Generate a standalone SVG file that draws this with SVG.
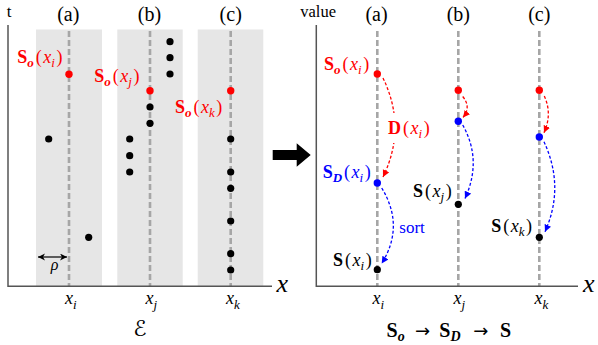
<svg xmlns="http://www.w3.org/2000/svg" width="598" height="345" viewBox="0 0 598 345">
<style>
.band{fill:#e6e6e6}
.guide{stroke:#a6a6a6;stroke-width:2.6;stroke-dasharray:6,3;fill:none}
.axis{stroke:#555;stroke-width:1.5;fill:none}
.dot{fill:#000}
.rdot{fill:#ff0000}
.bdot{fill:#0000ff}
.t{font-family:"Liberation Serif",serif;fill:#000}
.m{font-family:"Liberation Serif",serif;font-size:18px}
.b{font-weight:bold}
.i{font-style:italic}
.bi{font-weight:bold;font-style:italic}
.s{font-size:13px}
.red{fill:#ff0000}
.blue{fill:#0000ff}
.blk{fill:#000}
.arw{font-family:"DejaVu Sans",sans-serif;font-size:18px;fill:#000}
.rc{stroke:#ff0000;stroke-width:1.3;stroke-dasharray:3,2;fill:none}
.bc{stroke:#0000ff;stroke-width:1.3;stroke-dasharray:3,2;fill:none}
</style>
<defs>
<marker id="ar" markerUnits="userSpaceOnUse" markerWidth="8" markerHeight="8" refX="7" refY="3.5" orient="auto"><path d="M0,0 L7,3.5 L0,7 z" fill="#ff0000"/></marker>
<marker id="ab" markerUnits="userSpaceOnUse" markerWidth="8" markerHeight="8" refX="7" refY="3.5" orient="auto"><path d="M0,0 L7,3.5 L0,7 z" fill="#0000ff"/></marker>
<marker id="ak" markerUnits="userSpaceOnUse" markerWidth="8" markerHeight="8" refX="7" refY="3.5" orient="auto-start-reverse"><path d="M0,0 L7,3.5 L0,7 L2,3.5 z" fill="#000"/></marker>
</defs>

<g id="left-panel">
<rect class="band" x="36" y="29.5" width="66" height="256.5"/>
<rect class="band" x="117.3" y="29.5" width="65.4" height="256.5"/>
<rect class="band" x="197.7" y="29.5" width="65.6" height="256.5"/>
<line class="guide" x1="69" y1="31" x2="69" y2="286"/>
<line class="guide" x1="150" y1="31" x2="150" y2="286"/>
<line class="guide" x1="230.7" y1="31" x2="230.7" y2="286"/>
<path class="axis" d="M8,25 V286.3 H272"/>
<text class="t" x="9" y="17" font-size="17" text-anchor="middle">t</text>
<text class="t" x="68.3" y="21" font-size="20" text-anchor="middle">(a)</text>
<text class="t" x="149.5" y="21" font-size="20" text-anchor="middle">(b)</text>
<text class="t" x="230.7" y="21" font-size="20" text-anchor="middle">(c)</text>
<text class="t i" x="276.5" y="292" font-size="26">x</text>
<line x1="38" y1="257" x2="67" y2="257" stroke="#000" stroke-width="1.2" marker-start="url(#ak)" marker-end="url(#ak)"/>
<text class="t i" x="54.5" y="270" font-size="16" text-anchor="middle">ρ</text>
<text class="m blk" x="65" y="303.5"><tspan class="i">x</tspan><tspan class="s i" dy="5">i</tspan></text>
<text class="m blk" x="145.5" y="303.5"><tspan class="i">x</tspan><tspan class="s i" dy="5">j</tspan></text>
<text class="m blk" x="226" y="303.5"><tspan class="i">x</tspan><tspan class="s i" dy="5">k</tspan></text>
<text x="140" y="336" font-family="'DejaVu Serif','DejaVu Sans',serif" font-size="22" text-anchor="middle" fill="#000">ℰ</text>
</g>

<g id="left-points">
<circle class="rdot" cx="69" cy="74.3" r="3.7"/>
<circle class="dot" cx="48.7" cy="139" r="3.6"/>
<circle class="dot" cx="88.7" cy="237.3" r="3.6"/>
<circle class="dot" cx="170" cy="41.7" r="3.6"/>
<circle class="dot" cx="170" cy="57.7" r="3.6"/>
<circle class="dot" cx="170" cy="74" r="3.6"/>
<circle class="rdot" cx="150" cy="90.7" r="3.7"/>
<circle class="dot" cx="150" cy="107" r="3.6"/>
<circle class="dot" cx="150" cy="123.3" r="3.6"/>
<circle class="dot" cx="129.7" cy="139" r="3.6"/>
<circle class="dot" cx="129.7" cy="155.7" r="3.6"/>
<circle class="dot" cx="129.7" cy="172" r="3.6"/>
<circle class="rdot" cx="230.7" cy="90.7" r="3.7"/>
<circle class="dot" cx="230.7" cy="139" r="3.6"/>
<circle class="dot" cx="230.7" cy="172" r="3.6"/>
<circle class="dot" cx="230.7" cy="188.3" r="3.6"/>
<circle class="dot" cx="230.7" cy="221" r="3.6"/>
<circle class="dot" cx="230.7" cy="253.7" r="3.6"/>
<circle class="dot" cx="230.7" cy="270" r="3.6"/>
<text class="m red" x="17.3" y="63"><tspan class="b">S</tspan><tspan class="s bi" dy="4">o</tspan><tspan dy="-4" dx="2">(</tspan><tspan class="i" dx="1.5">x</tspan><tspan class="s i" dy="4">i</tspan><tspan dy="-4" dx="1.5">)</tspan></text>
<text class="m red" x="94.3" y="82"><tspan class="b">S</tspan><tspan class="s bi" dy="4">o</tspan><tspan dy="-4" dx="2">(</tspan><tspan class="i" dx="1.5">x</tspan><tspan class="s i" dy="4">j</tspan><tspan dy="-4" dx="1.5">)</tspan></text>
<text class="m red" x="175" y="113"><tspan class="b">S</tspan><tspan class="s bi" dy="4">o</tspan><tspan dy="-4" dx="2">(</tspan><tspan class="i" dx="1.5">x</tspan><tspan class="s i" dy="4">k</tspan><tspan dy="-4" dx="1.5">)</tspan></text>
</g>

<g id="transform-arrow">
<polygon points="272.7,150 296.7,150 296.7,143.3 310.7,155 296.7,166.7 296.7,160 272.7,160" fill="#000"/>
</g>

<g id="right-panel">
<line class="guide" x1="377.3" y1="31" x2="377.3" y2="286"/>
<line class="guide" x1="458.3" y1="31" x2="458.3" y2="286"/>
<line class="guide" x1="539.3" y1="31" x2="539.3" y2="286"/>
<path class="axis" d="M316.3,25 V286.3 H578"/>
<text class="t" x="336" y="17" font-size="16.5" text-anchor="end">value</text>
<text class="t" x="376.5" y="21" font-size="20" text-anchor="middle">(a)</text>
<text class="t" x="458.3" y="21" font-size="20" text-anchor="middle">(b)</text>
<text class="t" x="539.3" y="21" font-size="20" text-anchor="middle">(c)</text>
<text class="t i" x="583" y="292" font-size="26">x</text>
<text class="m blk" x="372.5" y="303.5"><tspan class="i">x</tspan><tspan class="s i" dy="5">i</tspan></text>
<text class="m blk" x="453.5" y="303.5"><tspan class="i">x</tspan><tspan class="s i" dy="5">j</tspan></text>
<text class="m blk" x="534.5" y="303.5"><tspan class="i">x</tspan><tspan class="s i" dy="5">k</tspan></text>
<text class="t b" x="386.5" y="337" font-size="20">S<tspan class="bi" font-size="14" dy="4">o</tspan></text>
<text class="arw" x="415" y="337">→</text>
<text class="t b" x="439.3" y="337" font-size="20">S<tspan class="bi" font-size="14" dy="4">D</tspan></text>
<text class="arw" x="473.3" y="337">→</text>
<text class="t b" x="500" y="337" font-size="20">S</text>
</g>

<g id="connectors">
<path class="rc" d="M383,78 Q407,127.5 383,177" marker-end="url(#ar)"/>
<path class="bc" d="M381.7,188 Q405,226 381.7,263.5" marker-end="url(#ab)"/>
<path class="rc" d="M462.7,96.5 Q471.5,107 463,117.5" marker-end="url(#ar)"/>
<path class="bc" d="M462.7,125 Q482.5,160 465,198.5" marker-end="url(#ab)"/>
<path class="rc" d="M544.3,96 Q552.5,114 544,132.7" marker-end="url(#ar)"/>
<path class="bc" d="M544,141.7 Q565,187 545,231.7" marker-end="url(#ab)"/>
</g>

<g id="node-a">
<circle class="rdot" cx="377.3" cy="74" r="3.7"/>
<circle class="bdot" cx="377.3" cy="183" r="3.7"/>
<circle class="dot" cx="377.3" cy="269.7" r="3.6"/>
<text class="m red" x="324" y="69.5"><tspan class="b">S</tspan><tspan class="s bi" dy="4">o</tspan><tspan dy="-4" dx="2">(</tspan><tspan class="i" dx="1.5">x</tspan><tspan class="s i" dy="4">i</tspan><tspan dy="-4" dx="1.5">)</tspan></text>
<rect x="386" y="113" width="46" height="30" fill="#fff"/>
<text class="m red" x="388" y="133.5"><tspan class="b">D</tspan><tspan dx="2">(</tspan><tspan class="i" dx="1.5">x</tspan><tspan class="s i" dy="4">i</tspan><tspan dy="-4" dx="1.5">)</tspan></text>
<text class="m blue" x="322.7" y="178"><tspan class="b">S</tspan><tspan class="s bi" dy="4">D</tspan><tspan dy="-4" dx="2">(</tspan><tspan class="i" dx="1.5">x</tspan><tspan class="s i" dy="4">i</tspan><tspan dy="-4" dx="1.5">)</tspan></text>
<text class="t blue" x="399.3" y="233" font-size="17">sort</text>
<text class="m blk" x="333" y="265.5"><tspan class="b">S</tspan><tspan dx="2">(</tspan><tspan class="i" dx="1.5">x</tspan><tspan class="s i" dy="4">i</tspan><tspan dy="-4" dx="1.5">)</tspan></text>
</g>

<g id="node-b">
<circle class="rdot" cx="458.3" cy="90.3" r="3.7"/>
<circle class="bdot" cx="458.3" cy="121.3" r="3.7"/>
<circle class="dot" cx="458.3" cy="204.3" r="3.6"/>
<text class="m blk" x="413" y="197"><tspan class="b">S</tspan><tspan dx="2">(</tspan><tspan class="i" dx="1.5">x</tspan><tspan class="s i" dy="4">j</tspan><tspan dy="-4" dx="1.5">)</tspan></text>
</g>

<g id="node-c">
<circle class="rdot" cx="539.3" cy="90.3" r="3.7"/>
<circle class="bdot" cx="539.3" cy="137" r="3.7"/>
<circle class="dot" cx="539.3" cy="237.3" r="3.6"/>
<text class="m blk" x="491.3" y="232"><tspan class="b">S</tspan><tspan dx="2">(</tspan><tspan class="i" dx="1.5">x</tspan><tspan class="s i" dy="4">k</tspan><tspan dy="-4" dx="1.5">)</tspan></text>
</g>
</svg>
